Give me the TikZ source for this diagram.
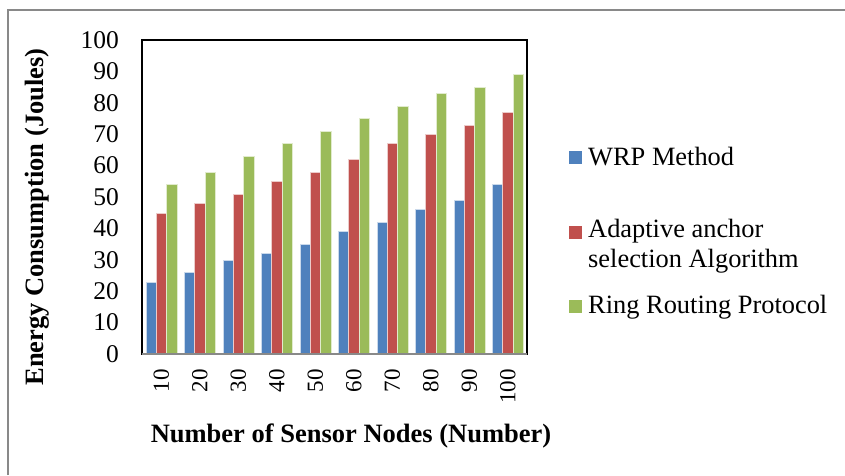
\documentclass[tikz,border=0pt]{standalone}
\usepackage{fontspec}
\setmainfont{Liberation Serif}
\definecolor{cblue}{HTML}{4F81BD}
\definecolor{cred}{HTML}{C0504D}
\definecolor{cgreen}{HTML}{9BBB59}
\definecolor{frame}{HTML}{898989}
\tikzset{
  ytick/.style={anchor=east, inner sep=0pt, font=\fontsize{25.5}{28}\selectfont},
  xtick/.style={anchor=east, rotate=90, inner sep=0pt, font=\fontsize{23}{26}\selectfont},
  axtitle/.style={inner sep=0pt, font=\fontsize{26.5}{30}\selectfont\bfseries},
  legtext/.style={anchor=west, inner sep=0pt, align=left, font=\fontsize{26.4}{30}\selectfont},
  legkey/.style={minimum size=13pt, inner sep=0pt, draw=none},
  bar/.style={draw=white!70!#1, line width=0.4pt, fill=#1}
}
\begin{document}
\begin{tikzpicture}[x=1pt,y=-1pt]
\useasboundingbox (0,0) rectangle (845,475);
% outer chart border
\draw[frame, line width=1.3pt] (8,475) -- (8,10) -- (845,10);
% plot area
\draw[black, line width=1.3pt] (142,354) rectangle (527,40);
% bars
\foreach \i/\a/\b/\c in {1/23/45/54,2/26/48/58,3/30/51/63,4/32/55/67,5/35/58/71,6/39/62/75,7/42/67/79,8/46/70/83,9/49/73/85,10/54/77/89}{
  \pgfmathsetmacro{\cx}{142+38.5*(\i-0.5)}
  \draw[bar=cblue] (\cx-15.5,354) rectangle (\cx-5.17,354-3.14*\a);
  \draw[bar=cred] (\cx-5.17,354) rectangle (\cx+5.17,354-3.14*\b);
  \draw[bar=cgreen] (\cx+5.17,354) rectangle (\cx+15.5,354-3.14*\c);
  \pgfmathtruncatemacro{\lab}{10*\i}
  \node[xtick] (xt\i) at (\cx,369) {\lab};
}
\draw[frame, line width=1.8pt] (142,354) -- (527,354);
% y ticks
\foreach \v in {0,10,...,100}{
  \node[ytick] (yt\v) at (119,354-3.14*\v) {\v};
}
% axis titles
\node[axtitle, rotate=90] (ytitle) at (37,217) {Energy Consumption (Joules)};
\node[axtitle] (xtitle) at (351,436) {Number of Sensor Nodes (Number)};
% legend
\node[legkey, fill=cblue] (k1) at (575.8,157) {};
\node[legtext] (l1) at (588,157) {WRP Method};
\node[legkey, fill=cred] (k2) at (575.8,232) {};
\node[legtext, anchor=north west] (l2) at (588,219) {Adaptive anchor\\selection Algorithm};
\node[legkey, fill=cgreen] (k3) at (575.8,306) {};
\node[legtext] (l3) at (588,307) {Ring Routing Protocol};
\end{tikzpicture}
\end{document}
